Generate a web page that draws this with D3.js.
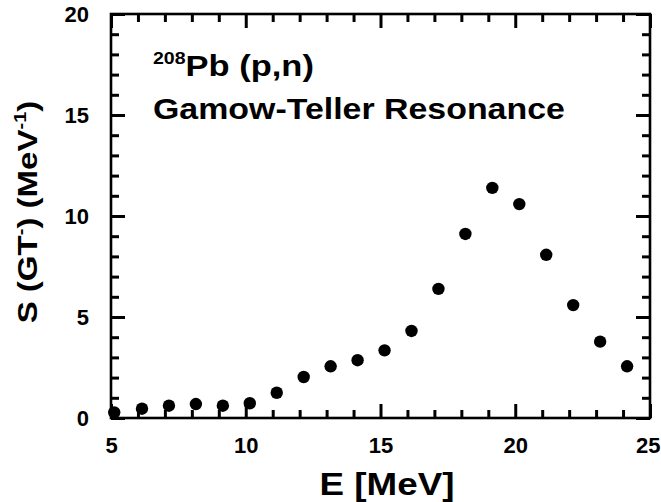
<!DOCTYPE html>
<html>
<head>
<meta charset="utf-8">
<script src="https://cdn.jsdelivr.net/npm/d3@7/dist/d3.min.js"></script>
<style>
  html, body { margin: 0; padding: 0; background: #fff; }
  svg { display: block; }
  text { font-family: "Liberation Sans", Arial, sans-serif; font-weight: bold; fill: #000; }
</style>
</head>
<body>
<svg id="chart" width="661" height="502"></svg>
<script>
// ---- data ----
const energies = [5.12, 6.15, 7.15, 8.15, 9.15, 10.15, 11.15, 12.15, 13.15, 14.15,
                  15.15, 16.15, 17.15, 18.15, 19.15, 20.15, 21.15, 22.15, 23.15, 24.15];
const strengths = [0.28, 0.46, 0.61, 0.69, 0.61, 0.73, 1.25, 2.03, 2.56, 2.86,
                   3.35, 4.31, 6.39, 9.11, 11.39, 10.59, 8.08, 5.59, 3.78, 2.56];
const xTicks = [5, 10, 15, 20, 25];
const yTicks = [0, 5, 10, 15, 20];
const xMinor = [6, 7, 8, 9, 11, 12, 13, 14, 16, 17, 18, 19, 21, 22, 23, 24];
const yMinor = [1, 2, 3, 4, 6, 7, 8, 9, 11, 12, 13, 14, 16, 17, 18, 19];

// ---- layout ----
const svg = d3.select("#chart");
const L = 111, R = 650, T = 14, B = 418;
const x = d3.scaleLinear().domain([5, 25]).range([L, R]);
const y = d3.scaleLinear().domain([0, 20]).range([B, T]);
const SW = 2.6, TW = 3, MAJ = 14, MIN = 8;

// frame
svg.append("rect").attr("x", L).attr("y", T).attr("width", R - L).attr("height", B - T)
  .attr("fill", "none").attr("stroke", "#000").attr("stroke-width", SW);

// inward ticks via d3 axes with negative tick size
function ticks(gen, tr, vals, len) {
  const g = svg.append("g").attr("transform", tr)
    .call(gen.tickValues(vals).tickSizeInner(-len).tickSizeOuter(0).tickFormat(() => ""));
  g.select(".domain").attr("stroke", "none");
  g.selectAll(".tick line").attr("stroke", "#000").attr("stroke-width", TW);
  return g;
}
ticks(d3.axisBottom(x), `translate(0,${B})`, xTicks, MAJ);
ticks(d3.axisBottom(x), `translate(0,${B})`, xMinor, MIN);
ticks(d3.axisTop(x), `translate(0,${T})`, xTicks, MAJ);
ticks(d3.axisTop(x), `translate(0,${T})`, xMinor, MIN);
ticks(d3.axisLeft(y), `translate(${L},0)`, yTicks, MAJ);
ticks(d3.axisLeft(y), `translate(${L},0)`, yMinor, MIN);
ticks(d3.axisRight(y), `translate(${R},0)`, yTicks, MAJ);
ticks(d3.axisRight(y), `translate(${R},0)`, yMinor, MIN);

// tick labels via d3 axes
const xl = svg.append("g").attr("transform", `translate(0,${B})`)
  .call(d3.axisBottom(x).tickValues(xTicks).tickSize(0).tickPadding(19).tickFormat(d3.format("d")));
xl.select(".domain").remove();
xl.attr("font-family", null);
xl.selectAll("text").attr("font-size", 22).attr("fill", "#000")
  .attr("text-anchor", d => d === 25 ? "end" : "middle")
  .attr("dx", d => d === 25 ? 10 : 0);

const yl = svg.append("g").attr("transform", `translate(${L},0)`)
  .call(d3.axisLeft(y).tickValues(yTicks).tickSize(0).tickPadding(22).tickFormat(d3.format("d")));
yl.select(".domain").remove();
yl.attr("font-family", null);
yl.selectAll("text").attr("font-size", 22).attr("fill", "#000");

// axis titles
svg.append("text")
  .attr("transform", "translate(387,495) scale(1.15,1)")
  .attr("text-anchor", "middle").attr("font-size", 32)
  .text("E [MeV]");

const ytt = svg.append("text")
  .attr("transform", "translate(37,212) rotate(-90) scale(1.18,1)")
  .attr("text-anchor", "middle").attr("font-size", 28);
ytt.append("tspan").text("S (GT");
ytt.append("tspan").attr("font-size", 17).attr("dy", -11).text("-");
ytt.append("tspan").attr("dy", 11).text(") (MeV");
ytt.append("tspan").attr("font-size", 17).attr("dy", -11).text("-1");
ytt.append("tspan").attr("dy", 11).text(")");

// annotation
const a1 = svg.append("text")
  .attr("transform", "translate(153,76) scale(1.15,1)")
  .attr("font-size", 30);
a1.append("tspan").attr("font-size", 17).attr("dy", -12).text("208");
a1.append("tspan").attr("dy", 12).text("Pb (p,n)");
svg.append("text")
  .attr("transform", "translate(153,119) scale(1.13,1)")
  .attr("font-size", 30)
  .text("Gamow-Teller Resonance");

// data points
svg.selectAll("circle.pt").data(energies).enter().append("circle")
  .attr("class", "pt")
  .attr("cx", d => x(d))
  .attr("cy", (d, i) => y(strengths[i]))
  .attr("r", 6.2)
  .attr("fill", "#000");
</script>
</body>
</html>
